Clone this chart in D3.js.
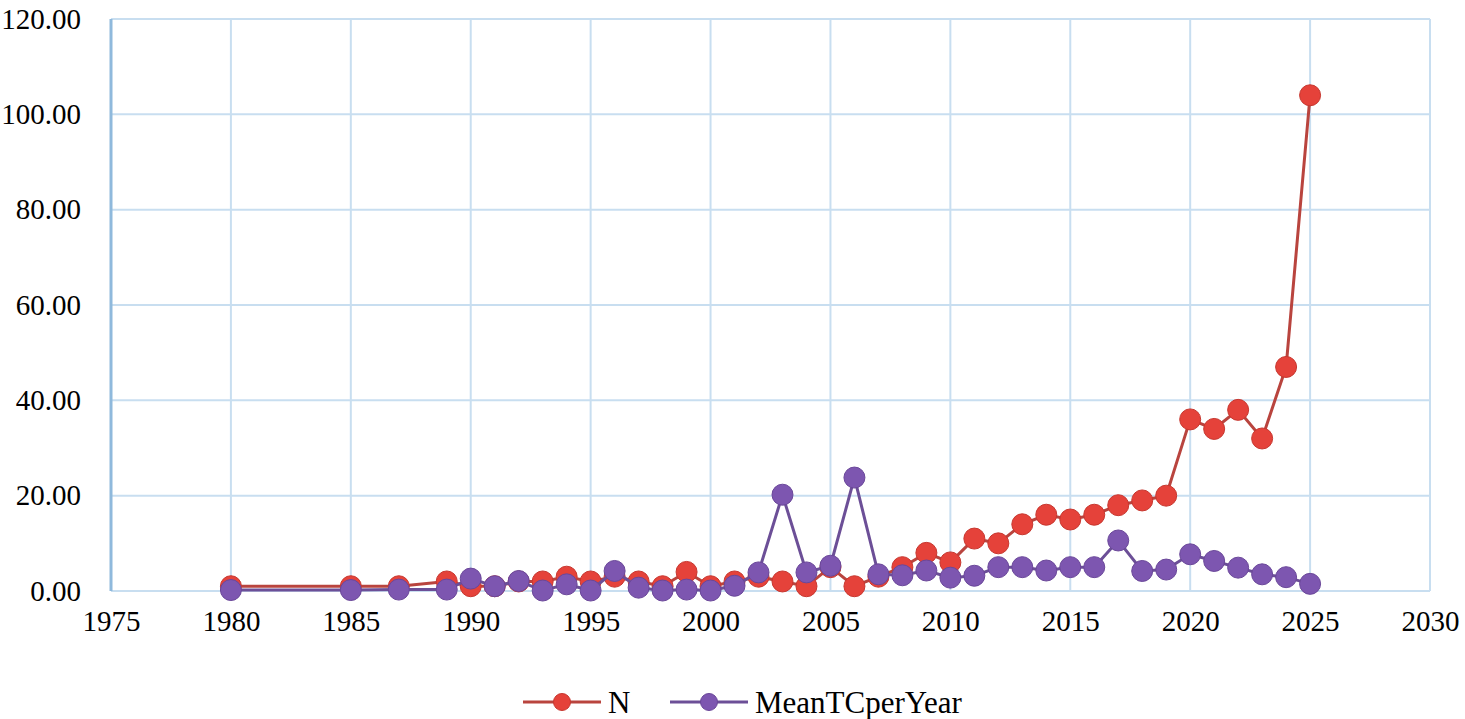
<!DOCTYPE html>
<html>
<head>
<meta charset="utf-8">
<script src="https://cdn.jsdelivr.net/npm/d3@7"></script>
<style>
  body { margin: 0; background: #fff; }
  svg { display: block; }
</style>
</head>
<body>
<svg></svg>
<script>
const years = [1980, 1985, 1987, 1989, 1990, 1991, 1992, 1993, 1994, 1995,
    1996, 1997, 1998, 1999, 2000, 2001, 2002, 2003, 2004, 2005,
    2006, 2007, 2008, 2009, 2010, 2011, 2012, 2013, 2014, 2015,
    2016, 2017, 2018, 2019, 2020, 2021, 2022, 2023, 2024, 2025];
const nValues = [1, 1, 1, 2, 1, 1, 2, 2, 3, 2,
    3, 2, 1, 4, 1, 2, 3, 2, 1, 5,
    1, 3, 5, 8, 6, 11, 10, 14, 16, 15,
    16, 18, 19, 20, 36, 34, 38, 32, 47, 104];
const meanTCValues = [0.2, 0.2, 0.3, 0.3, 2.6, 1.0, 2.1, 0.1, 1.4, 0.1,
    4.2, 0.7, 0.1, 0.3, 0.1, 1.1, 3.9, 20.2, 3.9, 5.3,
    23.8, 3.5, 3.3, 4.3, 2.8, 3.2, 5.0, 5.0, 4.3, 5.0,
    5.0, 10.6, 4.2, 4.5, 7.7, 6.3, 4.9, 3.5, 2.9, 1.5];
const xTicks = [1975, 1980, 1985, 1990, 1995, 2000, 2005, 2010, 2015, 2020, 2025, 2030];
const yTicks = [0, 20, 40, 60, 80, 100, 120];

const series = [
    { name: 'N', values: nValues, line: '#b9443e', fill: '#e5423a', stroke: '#c7372f' },
    { name: 'MeanTCperYear', values: meanTCValues, line: '#6c4f97', fill: '#7d56b0', stroke: '#6a4799' }
];

const svgWidth = 1465;
const svgHeight = 719;
const margin = { top: 19, right: 35, bottom: 128, left: 111 };
const width = svgWidth - margin.left - margin.right;
const height = svgHeight - margin.top - margin.bottom;
const font = '"Liberation Serif", "Times New Roman", serif';

const svg = d3.select('svg')
    .attr('width', svgWidth)
    .attr('height', svgHeight)
    .append('g')
    .attr('transform', `translate(${margin.left}, ${margin.top})`);

const xScale = d3.scaleLinear()
    .domain([1975, 2030])
    .range([0, width]);

const yScale = d3.scaleLinear()
    .domain([0, 120])
    .range([height, 0]);

// grid
svg.append('g')
    .selectAll('line')
    .data(xTicks)
    .enter().append('line')
    .attr('x1', d => xScale(d))
    .attr('x2', d => xScale(d))
    .attr('y1', 0)
    .attr('y2', height)
    .attr('stroke', '#c8def0')
    .attr('stroke-width', 2);

svg.append('g')
    .selectAll('line')
    .data(yTicks)
    .enter().append('line')
    .attr('x1', 0)
    .attr('x2', width)
    .attr('y1', d => yScale(d))
    .attr('y2', d => yScale(d))
    .attr('stroke', '#c8def0')
    .attr('stroke-width', 2);

// axes
const xAxis = svg.append('g')
    .attr('transform', `translate(0, ${height})`)
    .call(d3.axisBottom(xScale).tickValues(xTicks).tickFormat(d3.format('d')).tickSize(0).tickPadding(30));

const yAxis = svg.append('g')
    .call(d3.axisLeft(yScale).tickValues(yTicks).tickFormat(d3.format('.2f')).tickSize(0).tickPadding(30));

[xAxis, yAxis].forEach(a => {
    a.select('.domain').remove();
    a.selectAll('text')
        .attr('fill', '#000')
        .attr('font-family', font)
        .attr('font-size', '29px');
});
xAxis.selectAll('text').attr('dy', '0.35em');

svg.append('line')
    .attr('x1', 0).attr('x2', 0)
    .attr('y1', 0).attr('y2', height)
    .attr('stroke', '#8fb9dc')
    .attr('stroke-width', 3);

// series
const line = d3.line()
    .x((d, i) => xScale(years[i]))
    .y(d => yScale(d));

series.forEach(s => {
    svg.append('path')
        .datum(s.values)
        .attr('fill', 'none')
        .attr('stroke', s.line)
        .attr('stroke-width', 3)
        .attr('d', line);

    svg.append('g')
        .selectAll('circle')
        .data(s.values)
        .enter().append('circle')
        .attr('cx', (d, i) => xScale(years[i]))
        .attr('cy', d => yScale(d))
        .attr('r', 10.5)
        .attr('fill', s.fill)
        .attr('stroke', s.stroke)
        .attr('stroke-width', 1);
});

// legend
const legend = d3.select('svg').append('g')
    .attr('transform', 'translate(523, 702)');

const legendX = [0, 147];
const legendItems = legend.selectAll('g')
    .data(series)
    .enter().append('g')
    .attr('transform', (d, i) => `translate(${legendX[i]}, 0)`);

legendItems.append('line')
    .attr('x1', 0).attr('x2', 78)
    .attr('y1', 0).attr('y2', 0)
    .attr('stroke', d => d.line)
    .attr('stroke-width', 3);

legendItems.append('circle')
    .attr('cx', 39)
    .attr('cy', 0)
    .attr('r', 8.5)
    .attr('fill', d => d.fill)
    .attr('stroke', d => d.stroke);

legendItems.append('text')
    .attr('x', 85)
    .attr('y', 0)
    .attr('dy', '0.35em')
    .attr('fill', '#000')
    .attr('font-family', font)
    .attr('font-size', '31px')
    .text(d => d.name);
</script>
</body>
</html>
